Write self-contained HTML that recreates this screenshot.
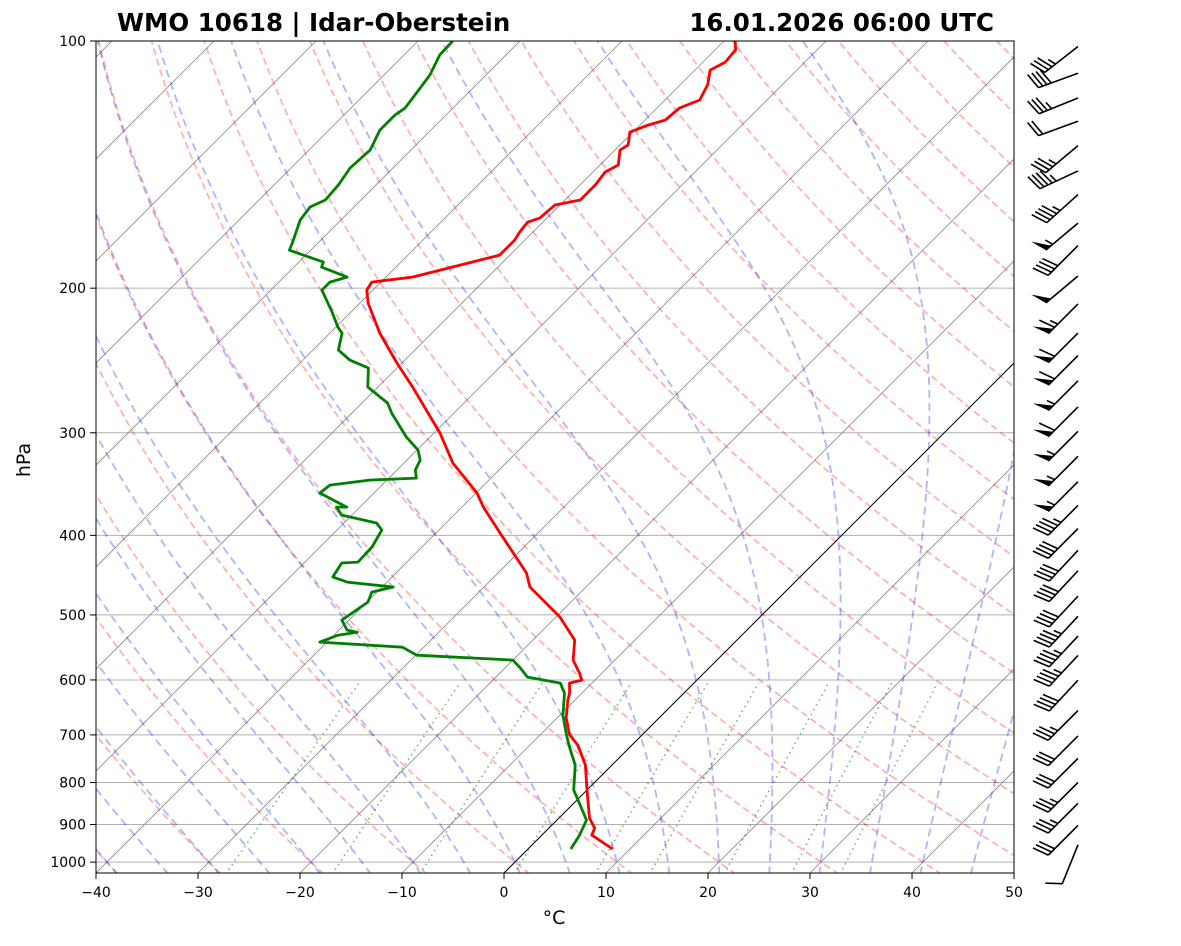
<!DOCTYPE html>
<html><head><meta charset="utf-8"><style>
body{margin:0;background:#fff;font-family:"Liberation Sans","DejaVu Sans",sans-serif;}
svg text{font-family:"DejaVu Sans","Liberation Sans",sans-serif;}
</style></head><body>
<svg id="c" width="1181" height="941" viewBox="0 0 1181 941" xmlns="http://www.w3.org/2000/svg">
<defs><clipPath id="clip"><rect x="96" y="41" width="918" height="832"/></clipPath></defs>
<rect width="1181" height="941" fill="#fff"/>
<g id="bg" clip-path="url(#clip)"></g>
<g id="prof" clip-path="url(#clip)"></g>
<rect x="96" y="41" width="918" height="832" fill="none" stroke="#000" stroke-width="1"/>
<g id="axes"></g>
<g id="barbs"></g>
<text x="117" y="31" font-size="24.5" font-weight="bold">WMO 10618 | Idar-Oberstein</text>
<text x="994" y="31" font-size="24.5" font-weight="bold" text-anchor="end">16.01.2026 06:00 UTC</text>
<text x="554" y="924" font-size="19" text-anchor="middle">°C</text>
<text x="30" y="460" font-size="19" text-anchor="middle" transform="rotate(-90 30 460)">hPa</text>
</svg>
<script>
const tempP=[100,102.5,106.1,108.5,113.1,118,120.7,124.8,126.6,129.1,133.9,135.8,141.6,144.4,149.7,156.2,158.4,164.3,166.2,170.9,174.8,182.3,193.9,196.6,201.1,208.5,226.9,246.7,263.9,300.3,326.6,355.2,369.5,397.5,444.6,462.4,503,536.6,567.5,588.5,600.2,605.3,622.6,634.9,667.6,700.2,720.2,761.8,817,852.1,884,909.2,927.2,964];
const tempT=[-58.9,-58,-57.8,-58.5,-57.3,-56.6,-57.8,-58,-59.2,-60.3,-59.2,-59.5,-58.2,-58.8,-58.5,-58.5,-60.5,-60.7,-61.5,-61.3,-61,-61,-67.4,-70.9,-70.6,-69.2,-65.1,-60.5,-56.6,-49.4,-45.2,-39.9,-37.9,-33.7,-27.2,-25.5,-19.6,-15.9,-14.1,-12.2,-11.3,-12.2,-11.2,-10.7,-9.1,-7.1,-5.3,-2.6,0,1.6,3,4.5,4.9,8.3];
const dewP=[100,104,110,116.4,120.7,123.1,128.4,135.8,142.8,149.7,156.2,159.3,165.2,174.8,179.8,185.9,188.5,193.9,196.6,201.1,214.5,223.1,226.9,237.9,244.7,250.2,263.9,276,283.9,303.7,314.9,323.9,333.1,340.7,342.6,347.4,355.2,369.5,369.5,377.9,386.4,394.1,413.3,431.1,432.3,449.6,456,462.4,469,482.3,497.4,507.3,521.7,524.8,529.2,539.6,547.3,559.8,567.5,580.3,595.3,605.3,622.6,662.2,700.2,726.3,761.8,817,852.1,888.9,927.2,964];
const dewT=[-86.6,-86.5,-85.5,-85,-84.7,-85,-85,-84,-84.2,-83.7,-83.5,-84.3,-84,-82.7,-82.1,-77.6,-77.3,-73.8,-75,-75,-71.7,-69.8,-68.8,-67.5,-65.4,-62.8,-61,-57.5,-56.1,-52.3,-49.9,-48.7,-48.2,-47.3,-51.7,-55.1,-55.3,-51.3,-52.3,-51,-46.8,-45.6,-44.9,-44.8,-46.3,-45.8,-43.9,-38.9,-40.5,-39.9,-40.4,-40.7,-39.2,-38,-39.6,-40.7,-32.1,-29.9,-20,-18.5,-16.9,-13.1,-11.7,-9.7,-7.4,-5.8,-3.6,-1.3,0.8,2.9,3.7,4.2];
const barbP=[103,111,119,127,136,146,156,169,180,196,212,230,245,263,283,303,325,349,373,398,423,448,481,509,538,568,609,663,712,758,811,860,915,966];
const barbSpd=[35,40,35,20,35,45,45,55,40,50,65,60,60,55,60,55,55,55,45,40,40,40,40,45,45,45,40,35,30,30,35,35,30,10];
const barbAng=[142,160,158,160,140,155,138,140,135,140,135,135,135,135,135,135,135,135,135,135,133,133,133,133,133,133,133,135,135,135,135,135,135,112];
const xTicks=[-40,-30,-20,-10,0,10,20,30,40,50];
const yTicks=[100,200,300,400,500,600,700,800,900,1000];
const NS='http://www.w3.org/2000/svg';
const yOf=p=>41+356.6*Math.log(p/100);
const xOf=(T,p)=>96+(T+40)*10.2+(873-yOf(p));
function mk(tag,attrs,parent){const e=document.createElementNS(NS,tag);for(const k in attrs)e.setAttribute(k,attrs[k]);parent.appendChild(e);return e;}
const bg=document.getElementById('bg'),prof=document.getElementById('prof'),axes=document.getElementById('axes'),barbs=document.getElementById('barbs');
function pathFrom(pts){return pts.map((q,i)=>(i?'L':'M')+q[0].toFixed(1)+' '+q[1].toFixed(1)).join('');}
yTicks.forEach(p=>{const l=mk('line',{x1:96,x2:1014,y1:yOf(p),y2:yOf(p),stroke:'#b0b0b0','stroke-width':1},bg);

});
for(let T=-140;T<=50;T+=10){const l=mk('line',{x1:xOf(T,1035),y1:yOf(1035),x2:xOf(T,100),y2:yOf(100),stroke:T===0?'#000':'#888','stroke-width':T===0?1:0.8},bg);

}
const pLev=[];for(let p=1035;p>=99;p-=5)pLev.push(p);
for(let th=-50;th<=200;th+=10){const pts=pLev.map(p=>[xOf((th+273.15)*Math.pow(p/1000,0.2857)-273.15,p),yOf(p)]);
const e=mk('path',{d:pathFrom(pts),fill:'none',stroke:'#ff0000','stroke-opacity':0.3,'stroke-width':1.8,'stroke-dasharray':'7,4'},bg);

}
function dTdp(T,p){const es=6.112*Math.exp(17.67*(T-273.15)/(T-29.65));const rs=0.622*es/(p-es);
return (287.04*T+2.501e6*rs)/(p*(1005.7+2.501e6*2.501e6*rs*0.622/(287.04*T*T)));}
function integ(T0,p0,p1,dp){const out=[[T0,p0]];let T=T0,p=p0;while((dp<0&&p>p1)||(dp>0&&p<p1)){const k1=dTdp(T,p);const k2=dTdp(T+k1*dp,p+dp);T+=0.5*(k1+k2)*dp;p+=dp;out.push([T,p]);}return out;}
for(let t=-50;t<=45;t+=5){const up=integ(t+273.15,1000,100,-5);const dn=integ(t+273.15,1000,1035,5).reverse();
const all=dn.concat(up.slice(1));const pts=all.map(q=>[xOf(q[0]-273.15,q[1]),yOf(q[1])]);
const e=mk('path',{d:pathFrom(pts),fill:'none',stroke:'#0000ff','stroke-opacity':0.3,'stroke-width':1.8,'stroke-dasharray':'8,5'},bg);

}
[0.0004,0.001,0.002,0.004,0.007,0.01,0.016,0.024,0.032].forEach(w=>{const pts=[];for(let p=1035;p>=600;p-=10){const e=p*w/(0.622+w);const l=Math.log(e/6.112);pts.push([xOf(243.5*l/(17.67-l),p),yOf(p)]);}
const e=mk('path',{d:pathFrom(pts),fill:'none',stroke:'#008000','stroke-opacity':0.55,'stroke-width':1.6,'stroke-dasharray':'1.5,4'},bg);

});
const tp=mk('path',{d:pathFrom(tempP.map((p,i)=>[xOf(tempT[i],p),yOf(p)])),fill:'none',stroke:'#ff0000','stroke-width':2.8,'stroke-linejoin':'round'},prof);


const dp=mk('path',{d:pathFrom(dewP.map((p,i)=>[xOf(dewT[i],p),yOf(p)])),fill:'none',stroke:'#008000','stroke-width':2.8,'stroke-linejoin':'round'},prof);


xTicks.forEach(T=>{const x=96+(T+40)*10.2;mk('line',{x1:x,x2:x,y1:873,y2:879,stroke:'#000'},axes);
const t=mk('text',{x:x,y:897,'font-size':14,'text-anchor':'middle'},axes);t.textContent=(T<0?'\u2212'+(-T):T);

});
yTicks.forEach(p=>{const y=yOf(p);mk('line',{x1:90,x2:96,y1:y,y2:y,stroke:'#000'},axes);
const t=mk('text',{x:86,y:y+5,'font-size':14,'text-anchor':'end'},axes);t.textContent=p;

});
barbP.forEach((p,i)=>{const g=mk('g',{},barbs);


const tx=1078,ty=yOf(p)-5;const a=barbAng[i]*Math.PI/180;const dx=Math.cos(a),dy=Math.sin(a);const L=42;
const ex=tx+dx*L,ey=ty+dy*L;mk('line',{x1:tx,y1:ty,x2:ex,y2:ey,stroke:'#000','stroke-width':1.6},g);
const fa=a+70*Math.PI/180;const fx=Math.cos(fa),fy=Math.sin(fa);let s=barbSpd[i];let d=0;
while(s>=50){const bx=ex-dx*d,by=ey-dy*d;const cx=ex-dx*(d+7),cy=ey-dy*(d+7);
mk('polygon',{points:`${bx},${by} ${bx+fx*17},${by+fy*17} ${cx},${cy}`,fill:'#000'},g);d+=9;s-=50;}
while(s>=10){const bx=ex-dx*d,by=ey-dy*d;mk('line',{x1:bx,y1:by,x2:bx+fx*17,y2:by+fy*17,stroke:'#000','stroke-width':1.6},g);d+=4.5;s-=10;}
if(s>=5){if(d===0)d=4.5;const bx=ex-dx*d,by=ey-dy*d;mk('line',{x1:bx,y1:by,x2:bx+fx*8.5,y2:by+fy*8.5,stroke:'#000','stroke-width':1.6},g);}
});
</script>
</body></html>
